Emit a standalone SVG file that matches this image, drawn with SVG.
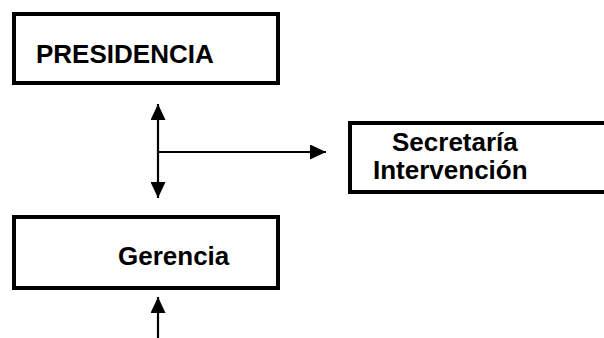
<svg xmlns="http://www.w3.org/2000/svg" width="604" height="338" viewBox="0 0 604 338">
<style>
.box{fill:#fff;stroke:#000;stroke-width:4}
.lbl{font-family:"Liberation Sans",Arial,sans-serif;font-weight:bold;font-size:26px;fill:#000}
.conn{stroke:#000;stroke-width:2.2;fill:none}
</style>
<defs>
<marker id="ah" markerUnits="userSpaceOnUse" markerWidth="16" markerHeight="15" refX="16" refY="7.5" orient="auto-start-reverse" viewBox="0 0 16 15">
<path d="M0,0 L16,7.5 L0,15 z" fill="#000"/>
</marker>
</defs>
<rect width="604" height="338" fill="#fff"/>
<g id="presidencia">
<rect class="box" x="14" y="14" width="264" height="69"/>
<text class="lbl" x="36" y="63">PRESIDENCIA</text>
</g>
<g id="secretaria">
<rect class="box" x="350" y="123" width="300" height="69"/>
<text class="lbl" x="392" y="151">Secretaría</text>
<text class="lbl" x="373" y="179">Intervención</text>
</g>
<g id="gerencia">
<rect class="box" x="14" y="217" width="264" height="71"/>
<text class="lbl" x="118" y="265">Gerencia</text>
</g>
<g id="connectors">
<line class="conn" x1="158" y1="104" x2="158" y2="198" marker-start="url(#ah)" marker-end="url(#ah)"/>
<line class="conn" x1="158" y1="152" x2="326" y2="152" marker-end="url(#ah)"/>
<line class="conn" x1="158" y1="338" x2="158" y2="297" marker-end="url(#ah)"/>
</g>
</svg>
